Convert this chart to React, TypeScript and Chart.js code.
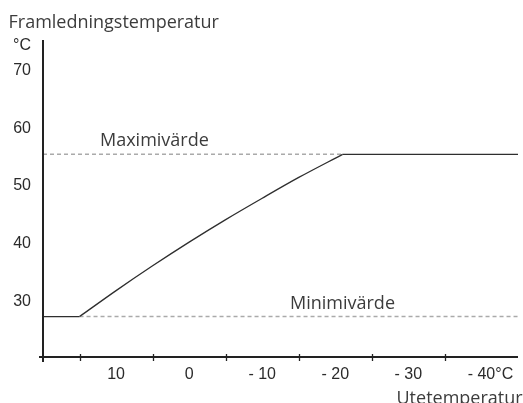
import React, { useEffect, useRef } from "react";
import { Chart, registerables } from "chart.js";

Chart.register(...registerables);

// Outdoor temperature (°C) on x, supply temperature (°C) on y
const X_TICK_VALUES = [10, 0, -10, -20, -30, -40];
const X_TICK_LABELS = ["10", "0", "- 10", "- 20", "- 30", "- 40"];
const X_TICK_MARKS = [15, 5, -5, -15, -25, -35];
const Y_TICK_VALUES = [30, 40, 50, 60, 70];

// rising part of the heating curve
const CURVE_OUTDOOR = [15, 10, 5, 0, -5, -10, -15, -21];
const CURVE_FLOW = [27.4, 31.9, 36.2, 40.3, 44.2, 47.9, 51.5, 55.5];

// flat parts of the curve (limits)
const LOW_FLAT_OUTDOOR = [20, 15];
const HIGH_FLAT_OUTDOOR = [-21, -45];

const MAX_OUTDOOR = [20, -21];
const MAX_VALUE = 55.5;
const MIN_OUTDOOR = [15, -45];
const MIN_VALUE = 27.4;

const TITLE_Y = "Framledningstemperatur";
const TITLE_X = "Utetemperatur";
const UNIT = "°C";
const MAX_LABEL = "Maximivärde";
const MIN_LABEL = "Minimivärde";

const TICK_FONT = "Liberation Sans";
const TEXT_FONT = "Open Sans";

const decorPlugin = {
  id: "decor",
  afterDraw(chart: any) {
    const { ctx, chartArea, scales } = chart;
    const xs = scales.x;
    const ys = scales.y;
    const left = chartArea.left;
    const bottom = chartArea.bottom;
    ctx.save();
    // axes
    ctx.strokeStyle = "#222";
    ctx.lineWidth = 2;
    ctx.beginPath();
    ctx.moveTo(left, chartArea.top);
    ctx.lineTo(left, bottom + 5);
    ctx.moveTo(left - 4, bottom);
    ctx.lineTo(chartArea.right, bottom);
    ctx.stroke();
    // tick marks
    ctx.lineWidth = 1.3;
    ctx.beginPath();
    X_TICK_MARKS.forEach((v) => {
      const px = Math.round(xs.getPixelForValue(v)) + 0.5;
      ctx.moveTo(px, bottom - 3);
      ctx.lineTo(px, bottom + 4);
    });
    ctx.stroke();

    // unit texts
    ctx.fillStyle = "#2b2b2b";
    ctx.font = `16px "${TICK_FONT}"`;
    ctx.textBaseline = "middle";
    ctx.textAlign = "right";
    ctx.fillText(UNIT, left - 12, ys.getPixelForValue(74.3));
    ctx.textAlign = "left";
    const lastV = X_TICK_VALUES[X_TICK_VALUES.length - 1];
    const lastL = X_TICK_LABELS[X_TICK_LABELS.length - 1];
    const w = ctx.measureText(lastL).width;
    ctx.fillText(UNIT, xs.getPixelForValue(lastV) + w / 2, bottom + 18);

    // annotation texts
    ctx.fillStyle = "#3c3c3c";
    ctx.font = `18px "${TEXT_FONT}"`;
    ctx.textBaseline = "alphabetic";
    ctx.textAlign = "left";
    ctx.fillText(TITLE_Y, 8.5, 28);
    ctx.fillText(MAX_LABEL, 100, ys.getPixelForValue(MAX_VALUE) - 8);
    ctx.fillText(MIN_LABEL, 290, ys.getPixelForValue(MIN_VALUE) - 7.5);
    ctx.fillText(TITLE_X, 396.5, 404);
    ctx.restore();
  },
};

const solid = {
  borderColor: "#2e2e2e",
  borderWidth: 1.3,
  pointRadius: 0,
  order: 0,
};

const dashed = {
  borderColor: "#aaaaaa",
  borderWidth: 1.5,
  borderDash: [4, 3],
  pointRadius: 0,
  order: 1,
};

export default function App() {
  const ref = useRef<HTMLCanvasElement | null>(null);

  useEffect(() => {
    if (!ref.current) return;
    const chart = new Chart(ref.current, {
      type: "line",
      data: {
        datasets: [
          {
            ...solid,
            data: CURVE_OUTDOOR.map((x, i) => ({ x, y: CURVE_FLOW[i] })),
            cubicInterpolationMode: "monotone",
          },
          { ...solid, data: LOW_FLAT_OUTDOOR.map((x) => ({ x, y: MIN_VALUE })) },
          { ...solid, data: HIGH_FLAT_OUTDOOR.map((x) => ({ x, y: MAX_VALUE })) },
          { ...dashed, data: MAX_OUTDOOR.map((x) => ({ x, y: MAX_VALUE })) },
          { ...dashed, data: MIN_OUTDOOR.map((x) => ({ x, y: MIN_VALUE })) },
        ],
      },
      options: {
        animation: false,
        responsive: true,
        maintainAspectRatio: false,
        layout: { padding: { top: 40, right: 5, left: 0, bottom: 0 } },
        plugins: { legend: { display: false }, tooltip: { enabled: false }, title: { display: false } },
        scales: {
          x: {
            type: "linear",
            reverse: true,
            min: -45,
            max: 20,
            grid: { display: false, drawTicks: false },
            border: { display: false },
            afterBuildTicks: (s: any) => {
              s.ticks = X_TICK_VALUES.map((v) => ({ value: v }));
            },
            afterFit: (s: any) => {
              s.height = 46;
            },
            ticks: {
              padding: 8,
              maxRotation: 0,
              autoSkip: false,
              color: "#2b2b2b",
              font: { family: TICK_FONT, size: 16 },
              callback: (v: any) => {
                const i = X_TICK_VALUES.indexOf(Number(v));
                return i >= 0 ? X_TICK_LABELS[i] : "";
              },
            },
          },
          y: {
            type: "linear",
            min: 20.4,
            max: 75.3,
            grid: { display: false, drawTicks: false },
            border: { display: false },
            afterBuildTicks: (s: any) => {
              s.ticks = Y_TICK_VALUES.map((v) => ({ value: v }));
            },
            afterFit: (s: any) => {
              s.width = 43;
            },
            ticks: {
              padding: 12,
              autoSkip: false,
              color: "#2b2b2b",
              font: { family: TICK_FONT, size: 16 },
              callback: (v: any) => String(v),
            },
          },
        },
      },
      plugins: [decorPlugin],
    });
    return () => chart.destroy();
  }, []);

  return (
    <div style={{ position: "fixed", left: 0, top: 0, width: 523, height: 403, background: "#fff" }}>
      <canvas ref={ref} />
    </div>
  );
}
